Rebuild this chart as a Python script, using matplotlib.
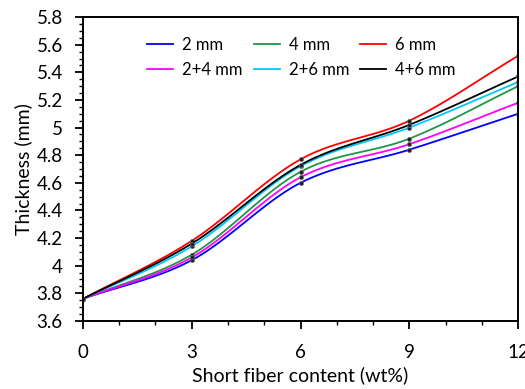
import numpy as np
import matplotlib
matplotlib.use("Agg")
import matplotlib.pyplot as plt
from matplotlib.ticker import MultipleLocator

x = [0, 3, 6, 9, 12]
s_2mm = [3.76, 4.04, 4.60, 4.84, 5.10]
s_4mm = [3.76, 4.08, 4.68, 4.92, 5.30]
s_6mm = [3.76, 4.18, 4.77, 5.05, 5.52]
s_24mm = [3.76, 4.06, 4.64, 4.88, 5.18]
s_26mm = [3.76, 4.14, 4.72, 5.00, 5.33]
s_46mm = [3.76, 4.16, 4.73, 5.02, 5.37]

labels = ["2 mm", "4 mm", "6 mm", "2+4 mm", "2+6 mm", "4+6 mm"]
colors = ["#0000FF", "#1E9646", "#FF0000", "#FF00FF", "#00C8FF", "#000000"]
series = [s_2mm, s_4mm, s_6mm, s_24mm, s_26mm, s_46mm]


def smooth(xs, ys, n=30):
    # Catmull-Rom style rendering between the data points (drawing only)
    xs = np.asarray(xs, float)
    ys = np.asarray(ys, float)
    px = np.concatenate([[2 * xs[0] - xs[1]], xs, [2 * xs[-1] - xs[-2]]])
    py = np.concatenate([[2 * ys[0] - ys[1]], ys, [2 * ys[-1] - ys[-2]]])
    ox, oy = [], []
    for i in range(1, len(px) - 2):
        t = np.linspace(0, 1, n, endpoint=(i == len(px) - 3))
        for arr, out in ((px, ox), (py, oy)):
            p0, p1, p2, p3 = arr[i - 1], arr[i], arr[i + 1], arr[i + 2]
            out.extend(0.5 * ((2 * p1) + (-p0 + p2) * t
                              + (2 * p0 - 5 * p1 + 4 * p2 - p3) * t ** 2
                              + (-p0 + 3 * p1 - 3 * p2 + p3) * t ** 3))
    return np.array(ox), np.array(oy)


plt.rcParams['font.family'] = ['Lato', 'DejaVu Sans']
fig = plt.figure(figsize=(5.25, 3.89), dpi=100)
ax = fig.add_axes([0.158, 0.175, 0.829, 0.781])

handles = {}
for lab, col, ys in zip(labels, colors, series):
    sx, sy = smooth(x, ys)
    h, = ax.plot(sx, sy, color=col, lw=1.3, label=lab)
    ax.plot(x, ys, ls='none', marker='o', ms=3.0, mfc='#202020', mec='#707070', mew=0.5)
    handles[lab] = h

order = ["2 mm", "2+4 mm", "4 mm", "2+6 mm", "6 mm", "4+6 mm"]
ax.legend([handles[k] for k in order], order, ncol=3, frameon=False,
          loc='upper center', bbox_to_anchor=(0.502, 0.985), fontsize=12,
          handlelength=1.55, columnspacing=0.65, handletextpad=0.55, labelspacing=0.55)

ax.set_xlim(0, 12)
ax.set_ylim(3.6, 5.8)
ax.xaxis.set_major_locator(MultipleLocator(3))
ax.xaxis.set_minor_locator(MultipleLocator(1))
ax.yaxis.set_major_locator(MultipleLocator(0.2))
ax.yaxis.set_minor_locator(MultipleLocator(0.05))
ax.yaxis.set_major_formatter(plt.FuncFormatter(
    lambda v, p: ('%d' % round(v)) if abs(v - round(v)) < 1e-9 else '%.1f' % v))
ax.tick_params(which='major', direction='out', length=5.5, width=1.3, labelsize=13.5)
ax.tick_params(which='minor', direction='out', length=3, width=1.0)
ax.tick_params(axis='x', which='major', pad=11)
ax.tick_params(axis='y', which='major', pad=9)
for sp in ax.spines.values():
    sp.set_linewidth(1.4)

ax.set_xlabel("Short fiber content (wt%)", fontsize=14, labelpad=4)
ax.set_ylabel("Thickness (mm)", fontsize=14, labelpad=3)

fig.savefig("out.png", dpi=100)
